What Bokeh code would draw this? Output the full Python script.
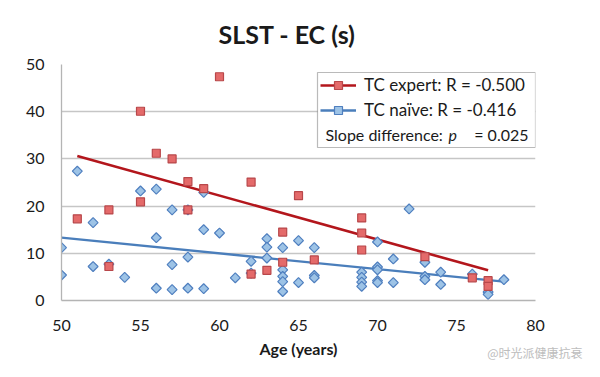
from bokeh.plotting import figure
from bokeh.models import Range1d, Legend, LegendItem, Label, BoxAnnotation, Title
from bokeh.embed import file_html
from bokeh.resources import INLINE
import math

# ---- data ----
expert_age = [51, 53, 53, 55, 55, 56, 57, 58, 58, 59, 60, 62, 62, 63, 64, 64,
              65, 66, 69, 69, 69, 73, 76, 77, 77]
expert_val = [17.3, 19.2, 7.2, 40.1, 20.9, 31.2, 30.0, 25.2, 19.2, 23.7, 47.4,
              25.1, 5.6, 6.4, 14.5, 8.1, 22.2, 8.6, 17.5, 14.3, 10.7, 9.3, 4.8,
              4.2, 3.0]

naive_age = [50, 50, 51, 52, 52, 53, 54, 55, 56, 56, 56, 57, 57, 57, 58, 58,
             58, 59, 59, 59, 60, 61, 62, 62, 63, 63, 63, 64, 64, 64, 64, 64,
             65, 65, 66, 66, 66, 69, 69, 69, 69, 70, 70, 70, 70, 70, 71, 71,
             72, 73, 73, 73, 74, 74, 76, 77, 77, 78]
naive_val = [11.2, 5.4, 27.4, 16.5, 7.2, 7.7, 4.9, 23.2, 23.6, 13.3, 2.6, 19.2,
             7.6, 2.3, 19.2, 9.2, 2.6, 22.9, 15.0, 2.5, 14.3, 4.8, 8.3, 5.8,
             13.1, 11.3, 9.0, 11.2, 6.5, 5.1, 4.0, 1.9, 12.7, 3.8, 11.2, 5.3,
             4.8, 6.0, 4.9, 3.9, 3.0, 12.4, 7.1, 6.5, 4.2, 3.8, 8.8, 3.8, 19.4,
             8.1, 5.1, 4.4, 6.0, 3.4, 5.6, 1.8, 1.3, 4.4]

expert_fit_age = [51, 77]
expert_fit_val = [30.6, 6.4]
naive_fit_age = [50, 78]
naive_fit_val = [13.3, 4.0]

x_ticks = [50, 55, 60, 65, 70, 75, 80]
y_ticks = [0, 10, 20, 30, 40, 50]

title_text = "SLST - EC (s)"
x_label = "Age (years)"
expert_label = "TC expert: R = -0.500"
naive_label = "TC naïve: R = -0.416"
slope_label = ["Slope difference:", "p", "= 0.025"]
watermark = "@时光派健康抗衰"

# ---- styles ----
FONT = "Lato"
RED_FILL, RED_LINE, RED_FIT = "#e46a6a", "#b8474a", "#b3161c"
BLUE_FILL, BLUE_LINE, BLUE_FIT = "#9dc3e6", "#4f7fbf", "#4a7ebb"
GRID = "#c6c6c6"
AXIS = "#b4b4b4"
TXT = "#1a1a1a"

# frame: x 61..535 px, y 64..300 px
p = figure(width=584, height=361, output_backend="svg", toolbar_location=None,
           x_range=Range1d(50, 80), y_range=Range1d(0, 50),
           min_border_left=61, min_border_right=49, min_border_top=64,
           min_border_bottom=61)

def dx(px):
    return 50 + (px - 61) * 30 / 474

def dy(py):
    return (300 - py) * 50 / 236

p.title.text = title_text
p.title.align = "left"
p.title.offset = 157
p.title.vertical_align = "top"
p.title.text_font = FONT
p.title.text_font_size = "25px"
p.title.text_font_style = "bold"
p.title.text_color = TXT
p.title.standoff = -91

p.outline_line_color = None
p.background_fill_color = "white"
p.border_fill_color = "white"

p.xgrid.grid_line_color = None
p.ygrid.grid_line_color = GRID
p.ygrid.grid_line_width = 1.3

p.xaxis.ticker = x_ticks
p.yaxis.ticker = y_ticks
for ax in (p.xaxis, p.yaxis):
    ax.axis_line_color = AXIS
    ax.axis_line_width = 1.3
    ax.major_tick_line_color = None
    ax.minor_tick_line_color = None
    ax.major_label_text_font = FONT
    ax.major_label_text_font_size = "16px"
    ax.major_label_text_color = TXT
p.xaxis.major_label_standoff = 13
p.yaxis.major_label_standoff = 11
p.xaxis.axis_label = x_label
p.xaxis.axis_label_text_font = FONT
p.xaxis.axis_label_text_font_size = "16px"
p.xaxis.axis_label_text_font_style = "bold"
p.xaxis.axis_label_text_color = TXT
p.xaxis.axis_label_standoff = 5

# fit lines
r_fit_e = p.line(expert_fit_age, expert_fit_val, line_color=RED_FIT, line_width=2.6)
r_fit_n = p.line(naive_fit_age, naive_fit_val, line_color=BLUE_FIT, line_width=2.3)

# points
r_n = p.scatter(naive_age, naive_val, marker="square", angle=math.pi / 4, size=7,
                fill_color=BLUE_FILL, line_color=BLUE_LINE, line_width=1.2)
r_e = p.scatter(expert_age, expert_val, marker="square", size=8,
                fill_color=RED_FILL, line_color=RED_LINE, line_width=1.2)

# legend frame (box)
p.add_layout(BoxAnnotation(left=dx(317), right=dx(535), top=dy(72), bottom=dy(147),
                           fill_color="white", fill_alpha=1,
                           line_color=TXT, line_width=1.2, level="annotation"))

legend = Legend(items=[LegendItem(label=expert_label, renderers=[r_fit_e, r_e]),
                       LegendItem(label=naive_label, renderers=[r_fit_n, r_n])],
                location=(259, 180), margin=0, padding=6, spacing=4,
                glyph_width=36, glyph_height=20, label_height=20,
                label_width=159, label_standoff=8,
                label_text_font=FONT, label_text_font_size="17px",
                label_text_color=TXT, label_text_baseline="middle",
                border_line_color=None, background_fill_alpha=0)
p.add_layout(legend)

ly = dy(134)
lbl = dict(text_font=FONT, text_font_size="16px", text_color=TXT,
           text_baseline="middle", level="overlay")
p.add_layout(Label(x=dx(325), y=ly, text=slope_label[0], text_align="left", **lbl))
p.add_layout(Label(x=dx(448), y=ly, text=slope_label[1], text_align="left",
                   text_font_style="italic", **lbl))
p.add_layout(Label(x=dx(528), y=ly, text=slope_label[2], text_align="right", **lbl))

# watermark (below the axis, pulled up with a negative standoff)
wm = Title(text=watermark, align="right", offset=-47, standoff=-34,
           vertical_align="top",
           text_font="Noto Sans CJK SC", text_font_size="12px",
           text_font_style="normal", text_color="#bdbdbd")
p.add_layout(wm, "below")

open("out.html", "w").write(file_html(p, INLINE))
